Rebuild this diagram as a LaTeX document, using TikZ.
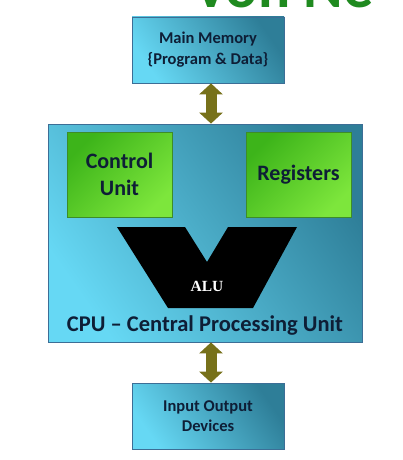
\documentclass[tikz,border=0pt]{standalone}
\usepackage{fontspec}
\setmainfont{Carlito}
\newfontfamily\alufont{Liberation Serif}
\usetikzlibrary{arrows.meta}
\definecolor{cyanlight}{HTML}{66D8F4}
\definecolor{cyandark}{HTML}{2E7E98}
\definecolor{cyanedge}{HTML}{3C6E96}
\definecolor{greenlight}{HTML}{7DE63C}
\definecolor{greendark}{HTML}{3DB41A}
\definecolor{greenedge}{HTML}{3E8C28}
\definecolor{busolive}{HTML}{77711A}
\definecolor{textnavy}{HTML}{0E1E36}
\definecolor{titlegreen}{HTML}{1F8A1F}
\tikzset{
  cyanbox/.style={draw=cyanedge, line width=0.8pt, left color=cyanlight, right color=cyandark,
    shading angle=125, text=textnavy, font=\bfseries, align=center},
  greenbox/.style={draw=greenedge, line width=0.8pt, left color=greendark, right color=greenlight,
    shading angle=45, text=textnavy, font=\fontsize{22}{27}\selectfont\bfseries, align=center,
    minimum width=105pt, minimum height=85pt},
  bus/.style={busolive, line width=11pt,
    {Triangle[length=11pt,width=23pt]}-{Triangle[length=11pt,width=23pt]}}
}
\begin{document}
\begin{tikzpicture}[x=1pt, y=-1pt]
\useasboundingbox (0,0) rectangle (403,460);
\fill[white] (0,0) rectangle (403,460);
% title, cut off by the page
\node[anchor=base west, inner sep=0pt, text=titlegreen, font=\fontsize{60}{60}\selectfont\bfseries] (title) at (193,8) {Von Ne};
% boxes
\node[cyanbox, minimum width=152pt, minimum height=66pt, font=\fontsize{16.5}{21}\selectfont\bfseries] (mem) at (208,50) {Main Memory\\\{Program \& Data\}};
\node[cyanbox, minimum width=314pt, minimum height=218pt] (cpu) at (205,233) {};
\node[cyanbox, minimum width=152pt, minimum height=66pt, font=\fontsize{16.5}{20}\selectfont\bfseries] (io) at (208,416) {Input Output\\Devices};
\node[greenbox] (cu) at (119.5,174.5) {Control\\Unit};
\node[greenbox] (reg) at (298.5,174.5) {Registers};
% ALU
\fill[black] (117,227) -- (185,227) -- (207,262) -- (228,227) -- (297,227) -- (253,308) -- (168,308) -- cycle;
\node[text=white, font=\alufont\fontsize{15.5}{15}\selectfont\bfseries] (alu) at (207,286) {ALU};
\node[text=textnavy, font=\fontsize{22.5}{24}\selectfont\bfseries] (cpulabel) at (205,326) {CPU -- Central Processing Unit};
% buses
\draw[bus] ([xshift=3pt]mem.south) -- ([xshift=3pt]mem.south |- cpu.north);
\draw[bus] ([xshift=3pt]io.north |- cpu.south) -- ([xshift=3pt]io.north);
\end{tikzpicture}
\end{document}
